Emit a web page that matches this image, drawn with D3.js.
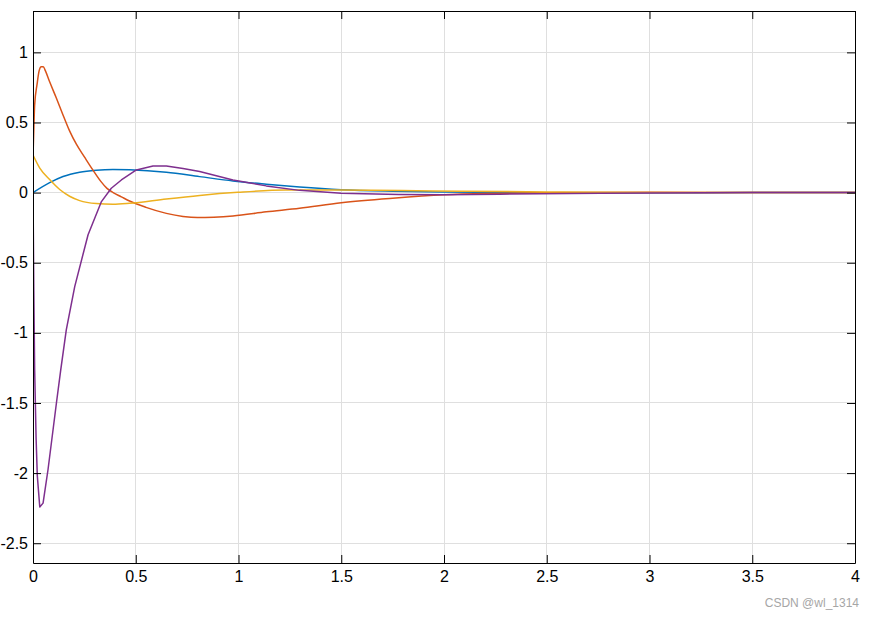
<!DOCTYPE html>
<html><head><meta charset="utf-8">
<script src="https://cdn.jsdelivr.net/npm/d3@7"></script>
<style>body{margin:0;background:#fff}svg{display:block}</style>
</head><body>
<script>
const xTicks = [0,0.5,1,1.5,2,2.5,3,3.5,4];
const yTicks = [-2.5,-2,-1.5,-1,-0.5,0,0.5,1];
const seriesNames = ["blue","orange","yellow","purple"];
const seriesColors = ["#0072BD","#D95319","#EDB120","#7E2F8E"];

const blueT = [0,0.081,0.146,0.227,0.308,0.389,0.47,0.649,0.811,0.973,1.135,1.297,1.5,1.75,2.0,2.5,3.0,3.5,4.0];
const blueV = [0,0.071,0.115,0.146,0.16,0.165,0.163,0.145,0.114,0.083,0.06,0.04,0.021,0.01,0.004,-0.001,-0.001,0,0];

const orangeT = [0,0.004,0.008,0.02,0.03,0.04,0.05,0.06,0.081,0.114,0.146,0.178,0.211,0.25,0.292,0.33,0.36,0.39,0.43,0.47,0.55,0.649,0.73,0.8,0.88,0.973,1.135,1.297,1.5,1.75,2.0,2.25,2.5,3.0,3.5,4.0];
const orangeV = [0.257,0.45,0.625,0.775,0.87,0.898,0.898,0.87,0.79,0.673,0.554,0.44,0.345,0.255,0.16,0.08,0.03,0.0,-0.03,-0.06,-0.105,-0.148,-0.17,-0.178,-0.175,-0.166,-0.137,-0.111,-0.072,-0.04,-0.016,-0.006,-0.001,0.002,0.001,0];

const yellowT = [0,0.033,0.081,0.13,0.178,0.227,0.308,0.389,0.47,0.649,0.811,0.997,1.23,1.5,1.944,2.5,3.0,4.0];
const yellowV = [0.268,0.175,0.093,0.022,-0.026,-0.057,-0.078,-0.083,-0.076,-0.045,-0.02,0.002,0.018,0.018,0.012,0.005,0.001,0];

const purpleT = [0,0.004,0.008,0.015,0.021,0.033,0.049,0.073,0.114,0.135,0.162,0.203,0.268,0.333,0.381,0.43,0.503,0.584,0.649,0.73,0.811,0.973,1.135,1.297,1.5,1.78,2.0,2.27,2.76,3.0,3.5,4.0];
const purpleV = [0,-0.7,-1.26,-1.75,-2.02,-2.242,-2.214,-1.976,-1.5,-1.264,-0.979,-0.67,-0.3,-0.064,0.031,0.09,0.162,0.19,0.19,0.172,0.15,0.09,0.048,0.016,-0.005,-0.013,-0.015,-0.011,-0.004,-0.002,0,0];

const W = 875, H = 619;
const L = 33, R = 855, T = 11, B = 563;
const svg = d3.select("body").append("svg").attr("width", W).attr("height", H);
const x = d3.scaleLinear().domain([0,4]).range([L,R]);
const y = d3.scaleLinear().domain([-2.641,1.295]).range([B,T]);

const grid = svg.append("g");
grid.selectAll("line.vx").data(xTicks).join("line")
  .attr("x1", d=>x(d)).attr("x2", d=>x(d)).attr("y1", T).attr("y2", B)
  .attr("stroke", "#dfdfdf").attr("stroke-width", 1).attr("shape-rendering","crispEdges");
grid.selectAll("line.hy").data(yTicks).join("line")
  .attr("y1", d=>y(d)).attr("y2", d=>y(d)).attr("x1", L).attr("x2", R)
  .attr("stroke", "#dfdfdf").attr("stroke-width", 1).attr("shape-rendering","crispEdges");

const data = [
  d3.zip(blueT, blueV), d3.zip(orangeT, orangeV), d3.zip(yellowT, yellowV), d3.zip(purpleT, purpleV)
];
const curves = [d3.curveMonotoneX, d3.curveMonotoneX, d3.curveMonotoneX, d3.curveLinear];
svg.append("defs").append("clipPath").attr("id","c").append("rect")
  .attr("x", L).attr("y", T).attr("width", R-L).attr("height", B-T);
const lines = svg.append("g").attr("clip-path","url(#c)");
data.forEach((d,i)=>{
  const line = d3.line().x(p=>x(p[0])).y(p=>y(p[1])).curve(curves[i]);
  lines.append("path").datum(d).attr("d", line).attr("fill","none")
    .attr("stroke", seriesColors[i]).attr("stroke-width", 1.5).attr("stroke-linejoin","round");
});

const fmt = d => String(d);
const ax = (g)=>g.selectAll("text").attr("font-family","Liberation Sans, Arial, sans-serif").attr("font-size","16px").attr("fill","#000");
const xb = svg.append("g").attr("transform",`translate(0,${B})`)
  .call(d3.axisBottom(x).tickValues(xTicks).tickFormat(fmt).tickSizeInner(-8).tickSizeOuter(0).tickPadding(8));
const xt = svg.append("g").attr("transform",`translate(0,${T})`)
  .call(d3.axisTop(x).tickValues(xTicks).tickFormat("").tickSizeInner(-8).tickSizeOuter(0));
const yl = svg.append("g").attr("transform",`translate(${L},0)`)
  .call(d3.axisLeft(y).tickValues(yTicks).tickFormat(fmt).tickSizeInner(-8).tickSizeOuter(0).tickPadding(5));
const yr = svg.append("g").attr("transform",`translate(${R},0)`)
  .call(d3.axisRight(y).tickValues(yTicks).tickFormat("").tickSizeInner(-8).tickSizeOuter(0));
[xb,xt,yl,yr].forEach(g=>{
  g.selectAll("path.domain").attr("stroke","#000").attr("stroke-width",1);
  g.selectAll(".tick line").attr("stroke","#000");
  ax(g);
});
xb.selectAll("text").attr("dy","0.71em");
yl.selectAll("text").attr("x",-5);

svg.append("text").attr("x", 859).attr("y", 607).attr("text-anchor","end")
  .attr("font-family","Liberation Sans, Arial, sans-serif").attr("font-size","12px").attr("fill","#a6a6a6")
  .text("CSDN @wl_1314");
</script>
</body></html>
